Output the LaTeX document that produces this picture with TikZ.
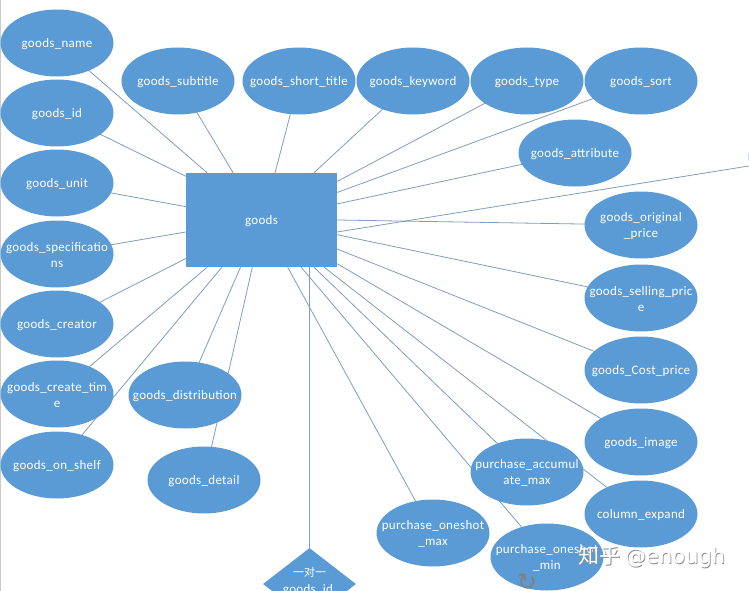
\documentclass[tikz,border=0pt]{standalone}
\usepackage{fontspec}
\setmainfont[LetterSpace=2.3]{Carlito}
\newfontfamily\cjkfont{Noto Sans CJK SC}
\newfontfamily\symbolfont{DejaVu Sans}
\usetikzlibrary{shapes.geometric,backgrounds}
\definecolor{officeblue}{HTML}{5B9BD5}
\definecolor{linkblue}{HTML}{7F9DBD}
\tikzset{
    attrtext/.style={text=white, font=\fontsize{13}{16}\selectfont, align=center, yshift=-0.8pt},
    attr/.style={ellipse, fill=officeblue, inner sep=0pt, minimum width=113pt, minimum height=67pt},
    link/.style={draw=linkblue, line width=0.8pt}
}
\begin{document}
\begin{tikzpicture}[x=1pt, y=-1pt]
        \useasboundingbox (0,0) rectangle (749,591);
        \clip (0,0) rectangle (749,591);
        \fill[black!20] (0,0) rectangle (1,591);

        % Entity
        \node[rectangle, fill=officeblue, minimum width=151pt, minimum height=94pt, inner sep=0pt] (goods) at (261.5,220) {};
        \node[attrtext] (goodstext) at (goods.center) {goods};

        % Left column
        \node[attr, label={[attrtext]center:goods\_name}] (name) at (57,43) {};
        \node[attr, label={[attrtext]center:goods\_id}] (id) at (57,113) {};
        \node[attr, label={[attrtext]center:goods\_unit}] (unit) at (57,183) {};
        \node[attr, label={[attrtext]center:goods\_specificatio\\ns}] (spec) at (57,254) {};
        \node[attr, label={[attrtext]center:goods\_creator}] (creator) at (57,324) {};
        \node[attr, label={[attrtext]center:goods\_create\_tim\\e}] (createtime) at (57,394) {};
        \node[attr, label={[attrtext]center:goods\_on\_shelf}] (onshelf) at (57,465) {};
        \node[attr, label={[attrtext]center:goods\_distribution}] (distribution) at (185,395) {};
        \node[attr, label={[attrtext]center:goods\_detail}] (detail) at (204,480) {};

        % Top row
        \node[attr, label={[attrtext]center:goods\_subtitle}] (subtitle) at (178,81) {};
        \node[attr, label={[attrtext]center:goods\_short\_title}] (shorttitle) at (299,81) {};
        \node[attr, label={[attrtext]center:goods\_keyword}] (keyword) at (413,81) {};
        \node[attr, label={[attrtext]center:goods\_type}] (type) at (527,81) {};
        \node[attr, label={[attrtext]center:goods\_sort}] (sort) at (641,81) {};
        \node[attr, label={[attrtext]center:goods\_attribute}] (attribute) at (575,153) {};
        \node[attr] (offpage) at (805,157) {};

        % Right column
        \node[attr, label={[attrtext]center:goods\_original\\\_price}] (original) at (641,225) {};
        \node[attr, label={[attrtext]center:goods\_selling\_pric\\e}] (selling) at (641,298) {};
        \node[attr, label={[attrtext]center:goods\_Cost\_price}] (cost) at (641,370) {};
        \node[attr, label={[attrtext]center:goods\_image}] (image) at (641,442) {};
        \node[attr, label={[attrtext]center:column\_expand}] (column) at (641,514) {};

        % Bottom
        \node[attr, label={[attrtext]center:purchase\_accumul\\ate\_max}] (accumulate) at (527,472) {};
        \node[attr, label={[attrtext]center:purchase\_oneshot\\\_max}] (oneshotmax) at (433,533) {};
        \node[attr, label={[attrtext]center:purchase\_oneshot\\\_min}] (oneshotmin) at (547,557) {};
        \node[diamond, fill=officeblue, inner sep=0pt, minimum width=93pt, minimum height=72pt] (relation) at (309.5,584) {};
        \node[attrtext, font=\fontsize{11}{14}\selectfont\cjkfont] (relationtop) at (309.5,572) {一对一};
        \node[attrtext, below=0pt] (relationkey) at (308,580) {goods\_id};

        % Connections
        \begin{pgfonlayer}{background}
        \draw[link] (name.center) -- (goods.139.2);
        \draw[link] (id.center) -- (goods.150.9);
        \draw[link] (unit.center) -- (goods.170.2);
        \draw[link] (spec.center) -- (goods.-171);
        \draw[link] (creator.center) -- (goods.-153.3);
        \draw[link] (createtime.center) -- (goods.-139.2);
        \draw[link] (onshelf.center) -- (goods.-130.8);
        \draw[link] (distribution.center) -- (goods.-114.6);
        \draw[link] (detail.center) -- (goods.-101.4);
        \draw[link] (subtitle.center) -- (goods.121.2);
        \draw[link] (shorttitle.center) -- (goods.74);
        \draw[link] (keyword.center) -- (goods.42.4);
        \draw[link] (type.center) -- (goods.27.9);
        \draw[link] (sort.center) -- (goods.20.4);
        \draw[link] (attribute.center) -- (goods.12);
        \draw[link] (offpage.center) -- (goods.-9.8);
        \draw[link] (original.center) -- (goods.-0.8);
        \draw[link] (selling.center) -- (goods.-11.2);
        \draw[link] (cost.center) -- (goods.-21.7);
        \draw[link] (image.center) -- (goods.-30.2);
        \draw[link] (column.center) -- (goods.-37.8);
        \draw[link] (accumulate.center) -- (goods.-42.9);
        \draw[link] (oneshotmin.center) -- (goods.-50);
        \draw[link] (oneshotmax.center) -- (goods.-61.5);
        \draw[link] (relation.north) -- (relation.north |- goods.south);
        \end{pgfonlayer}

        % Rotate handle and watermark
        \node[text=black!50, font=\fontsize{24}{24}\selectfont\symbolfont] (handle) at (527,582) {↻};
        \node[text=black!45, font=\fontsize{21}{21}\selectfont\cjkfont, anchor=west] (markshadow) at (575.7,557.7) {知乎 \symbolfont\fontsize{21}{21}\selectfont @enough};
        \node[text=white, font=\fontsize{21}{21}\selectfont\cjkfont, anchor=west] (mark) at (575,557) {知乎 \symbolfont\fontsize{21}{21}\selectfont @enough};
    \end{tikzpicture}
\end{document}
